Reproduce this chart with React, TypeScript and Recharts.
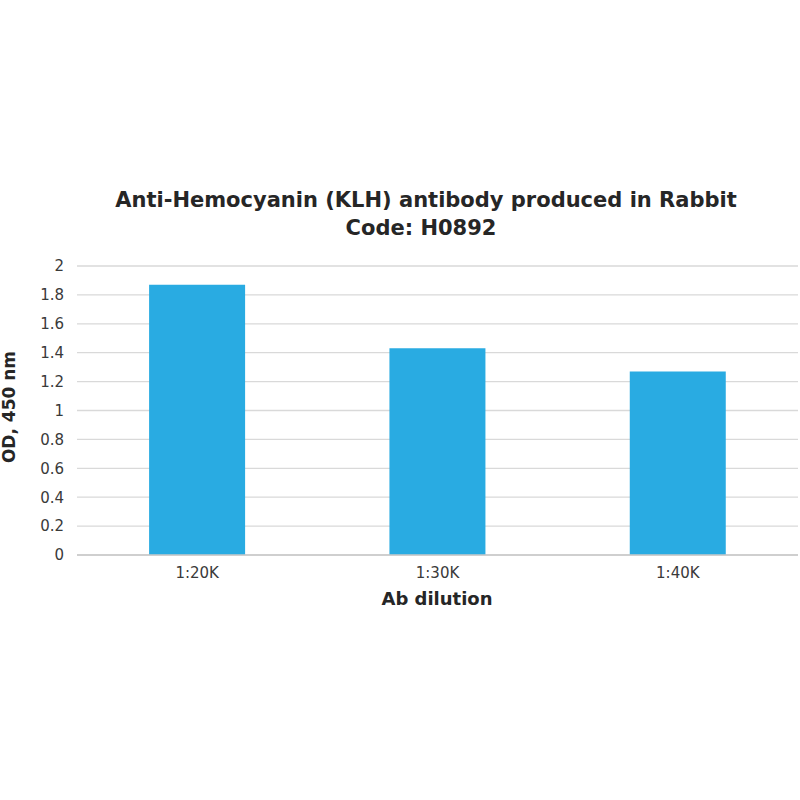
import { BarChart, Bar, XAxis, YAxis, CartesianGrid } from 'recharts';

const dilutions = ['1:20K', '1:30K', '1:40K'];
const odValues = [1.87, 1.43, 1.27];
const yTicks = [0, 0.2, 0.4, 0.6, 0.8, 1, 1.2, 1.4, 1.6, 1.8, 2];

const data = dilutions.map((d, i) => ({ dilution: d, od: odValues[i] }));

const FONT = '"DejaVu Sans", Verdana, sans-serif';

export default function App() {
  return (
    <div style={{ position: 'absolute', left: 0, top: 0, width: 800, height: 800, background: '#fff' }}>
      <BarChart
        width={800}
        height={800}
        data={data}
        margin={{ top: 266, right: 2, bottom: 215, left: 0 }}
        barCategoryGap="30%"
      >
        <CartesianGrid vertical={false} stroke="#d9d9d9" strokeWidth={1.3} />
        <XAxis
          dataKey="dilution"
          height={30}
          axisLine={{ stroke: '#c8c8c8', strokeWidth: 1.5 }}
          tickLine={false}
          tickSize={6}
          tickMargin={6}
          tick={{ fill: '#3a3a3a', fontSize: 15, fontFamily: FONT }}
        />
        <YAxis
          width={77}
          domain={[0, 2]}
          ticks={yTicks}
          axisLine={false}
          tickLine={false}
          tickSize={6}
          tickMargin={7}
          tickFormatter={(v: number) => String(Number(v.toFixed(1)))}
          tick={{ fill: '#3a3a3a', fontSize: 15, fontFamily: FONT }}
        />
        <Bar dataKey="od" fill="#29abe2" isAnimationActive={false} />
      </BarChart>
      <svg
        width={800}
        height={800}
        style={{ position: 'absolute', left: 0, top: 0, pointerEvents: 'none' }}
      >
        <g fontFamily={FONT} fontWeight="bold" fill="#262626">
          <text x={426} y={207} textAnchor="middle" fontSize={21}>
            Anti-Hemocyanin (KLH) antibody produced in Rabbit
          </text>
          <text x={421} y={235} textAnchor="middle" fontSize={21}>
            Code: H0892
          </text>
          <text x={437} y={605} textAnchor="middle" fontSize={18}>
            Ab dilution
          </text>
          <text
            x={15}
            y={407}
            textAnchor="middle"
            fontSize={17}
            transform="rotate(-90 15 407)"
          >
            OD, 450 nm
          </text>
        </g>
      </svg>
    </div>
  );
}
